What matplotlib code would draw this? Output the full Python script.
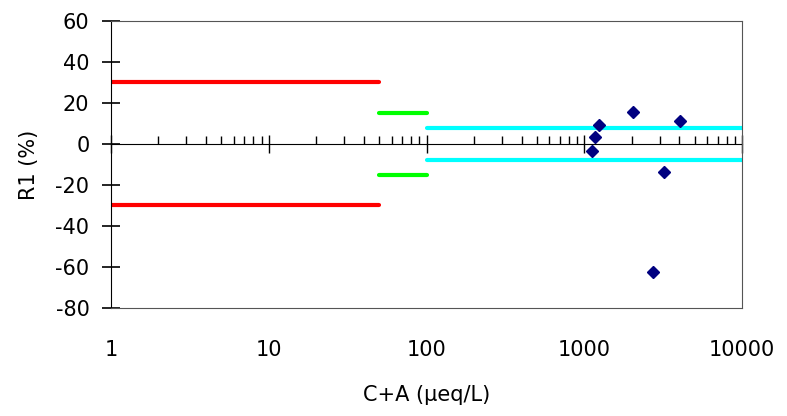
import numpy as np
import matplotlib
matplotlib.use("Agg")
import matplotlib.pyplot as plt
from matplotlib.ticker import LogLocator, NullFormatter

# acceptance criteria (C+A range start, end, +/- limit in %)
crit_lo = [1, 50, 100]
crit_hi = [50, 100, 10000]
crit_lim = [30, 15, 8]
crit_colors = ["#ff0000", "#00ff00", "#00ffff"]

# samples
ca_sum = [1235, 1170, 1115, 2047, 4047, 3203, 2740]
r1_pct = [9.3, 3.6, -3.4, 15.8, 11.4, -13.5, -62.3]

x_ticks = [1, 10, 100, 1000, 10000]
x_labels = ["1", "10", "100", "1000", "10000"]
y_ticks = [60, 40, 20, 0, -20, -40, -60, -80]

fig = plt.figure(figsize=(7.87, 4.16), dpi=100)
ax = fig.add_axes([0.141, 0.2596, 0.802, 0.69])

for lo, hi, lim, c in zip(crit_lo, crit_hi, crit_lim, crit_colors):
    ax.plot([lo, hi], [lim, lim], color=c, lw=3, solid_capstyle="round", zorder=2)
    ax.plot([lo, hi], [-lim, -lim], color=c, lw=3, solid_capstyle="round", zorder=2)

ax.plot(ca_sum, r1_pct, ls="none", marker="D", ms=6, color="#000080", zorder=4)

ax.set_xscale("log")
ax.set_xlim(1, 10000)
ax.set_ylim(-80, 60)
ax.set_xticks(x_ticks)
ax.set_xticklabels(x_labels)
ax.xaxis.set_minor_locator(plt.NullLocator())
ax.set_yticks(y_ticks)
ax.set_yticklabels([str(v) for v in y_ticks])
ax.tick_params(axis="x", length=0, pad=23, labelsize=15)
ax.tick_params(axis="y", direction="inout", length=13, width=1.2, color="black",
               pad=9, labelsize=15)

for s in ["top", "right", "bottom"]:
    ax.spines[s].set_color("#555555")
ax.spines["left"].set_color("black")

# zero axis with log ticks
sec = ax.secondary_xaxis(80 / 140)
sec.xaxis.set_major_locator(LogLocator(base=10))
sec.xaxis.set_minor_locator(LogLocator(base=10, subs=np.arange(2, 10)))
sec.xaxis.set_minor_formatter(NullFormatter())
sec.tick_params(which="both", labeltop=False, labelbottom=False)
sec.tick_params(which="major", direction="inout", length=13, width=1, color="black")
sec.tick_params(which="minor", direction="out", length=5.5, width=1, color="black")
for s in sec.spines.values():
    s.set_color("black")

ax.set_ylabel("R1 (%)", fontsize=15, labelpad=12)
ax.set_xlabel("C+A (\u00b5eq/L)", fontsize=15, labelpad=18)

fig.savefig("out.png", dpi=100)
